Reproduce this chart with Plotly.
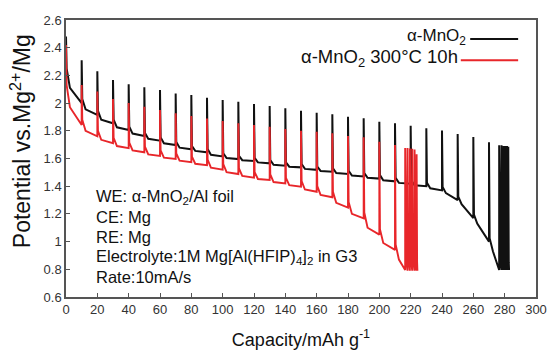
import plotly.graph_objects as go

# ---------------- data ----------------
# alpha-MnO2 (black): GITT pulses
black_start = [0, 10, 20, 30, 40, 50, 60, 70, 80, 90, 100, 110, 120, 130, 140, 150, 160, 170,
               180, 190, 200, 210, 220, 230, 240, 250, 260, 270, 276.5, 278, 279.3, 280.5, 281.5, 282.3]
black_final_cap = 282.8
black_top = [2.48, 2.31, 2.23, 2.167, 2.136, 2.114, 2.094, 2.07, 2.058, 2.039, 2.022, 2.01, 1.993,
             1.979, 1.962, 1.945, 1.931, 1.919, 1.902, 1.89, 1.866, 1.854, 1.837, 1.818, 1.802,
             1.776, 1.755, 1.717, 1.695, 1.695, 1.69, 1.69, 1.69, 1.685]
black_after = [2.25, 2.03, 1.945, 1.88, 1.83, 1.785, 1.752, 1.72, 1.69, 1.668, 1.638, 1.62, 1.605,
               1.588, 1.572, 1.56, 1.542, 1.53, 1.512, 1.494, 1.48, 1.46, 1.443, 1.425, 1.395,
               1.325, 1.195, 1.025, 1.1, 1.1, 1.1, 1.1, 1.1, 1.1]
black_knee = [2.11, 1.955, 1.88, 1.825, 1.78, 1.742, 1.71, 1.678, 1.655, 1.627, 1.604, 1.588, 1.572,
              1.555, 1.541, 1.525, 1.51, 1.495, 1.477, 1.461, 1.443, 1.424, 1.407, 1.385, 1.35,
              1.27, 1.13, 0.93, 0.85, 0.85, 0.85, 0.85, 0.85, 0.85]
black_end = [2.0, 1.914, 1.854, 1.806, 1.762, 1.729, 1.697, 1.666, 1.645, 1.615, 1.596, 1.582, 1.565,
             1.548, 1.536, 1.518, 1.505, 1.488, 1.47, 1.455, 1.435, 1.418, 1.40, 1.37, 1.30,
             1.17, 1.0, 0.795, 0.795, 0.795, 0.795, 0.795, 0.795, 0.795]

# alpha-MnO2 300 C 10h (red)
red_start = [0, 10, 20, 30, 40, 50, 60, 70, 80, 90, 100, 110, 120, 130, 140, 150, 160, 170,
             180, 190, 200, 210, 216.5, 218, 219.5, 221, 222.5, 223.8]
red_final_cap = 224.3
red_top = [2.42, 2.13, 2.083, 2.03, 2.0, 1.974, 1.95, 1.926, 1.907, 1.888, 1.871, 1.854, 1.842,
           1.83, 1.813, 1.80, 1.793, 1.782, 1.762, 1.753, 1.721, 1.697,
           1.675, 1.675, 1.672, 1.67, 1.665, 1.63]
red_after = [2.13, 1.88, 1.80, 1.75, 1.715, 1.685, 1.658, 1.636, 1.614, 1.592, 1.56, 1.528, 1.502,
             1.485, 1.46, 1.437, 1.40, 1.36, 1.285, 1.21, 1.09, 0.98,
             1.05, 1.05, 1.05, 1.05, 1.05, 1.05]
red_knee = [1.97, 1.80, 1.735, 1.69, 1.658, 1.63, 1.606, 1.584, 1.562, 1.534, 1.502, 1.474, 1.452,
            1.43, 1.407, 1.376, 1.337, 1.28, 1.20, 1.10, 0.99, 0.87,
            0.85, 0.85, 0.85, 0.85, 0.85, 0.85]
red_end = [1.842, 1.76, 1.71, 1.675, 1.645, 1.618, 1.596, 1.574, 1.552, 1.52, 1.488, 1.462, 1.445,
           1.42, 1.397, 1.36, 1.32, 1.245, 1.168, 1.05, 0.94, 0.795,
           0.79, 0.79, 0.79, 0.79, 0.79, 0.79]

series_names = ["α-MnO<sub>2</sub>", "α-MnO<sub>2</sub> 300°C 10h"]
x_ticks = list(range(0, 301, 20))
y_ticks = [0.6, 0.8, 1, 1.2, 1.4, 1.6, 1.8, 2, 2.2, 2.4, 2.6]
x_title = "Capacity/mAh g<sup>-1</sup>"
y_title = "Potential vs.Mg<sup>2+</sup>/Mg"
info_lines = ["WE: α-MnO<sub>2</sub>/Al foil", "CE: Mg", "RE: Mg",
              "Electrolyte:1M Mg[Al(HFIP)<sub>4</sub>]<sub>2</sub> in G3", "Rate:10mA/s"]


def build_path(starts, final_cap, tops, afters, knees, ends):
    xs, ys = [], []
    for i, s in enumerate(starts):
        e = starts[i + 1] if i + 1 < len(starts) else final_cap
        span = e - s
        xs += [s, s + min(0.4, 0.25 * span), s + min(2.5, 0.6 * span), e]
        ys += [tops[i], afters[i], knees[i], ends[i]]
    return xs, ys


bx, by = build_path(black_start, black_final_cap, black_top, black_after, black_knee, black_end)
rx, ry = build_path(red_start, red_final_cap, red_top, red_after, red_knee, red_end)

BLACK = "#111111"
RED = "#e8262a"
FONT = "Liberation Sans, Arial, sans-serif"

fig = go.Figure()
fig.add_trace(go.Scatter(x=bx, y=by, mode="lines", line=dict(color=BLACK, width=2),
                         name=series_names[0], showlegend=False))
fig.add_trace(go.Scatter(x=rx, y=ry, mode="lines", line=dict(color=RED, width=1.9),
                         name=series_names[1], showlegend=False))

axis_common = dict(showgrid=False, zeroline=False, showline=True, linecolor="#555555",
                   linewidth=1.5, mirror=True, ticks="inside", ticklen=4, tickwidth=1,
                   tickcolor="#555555", automargin=False,
                   tickfont=dict(family=FONT, size=13, color="#333333"))

fig.update_xaxes(range=[0, 300], tickvals=x_ticks,
                 title=dict(text=x_title, standoff=18,
                            font=dict(family=FONT, size=18, color="#111111")),
                 **axis_common)
fig.update_yaxes(range=[0.6, 2.6], tickvals=y_ticks, **axis_common)

# y-axis title (placed slightly above the axis centre, as in the reference)
fig.add_annotation(xref="paper", yref="paper", x=-0.096, y=0.562, text=y_title,
                   textangle=-90, showarrow=False, xanchor="center", yanchor="middle",
                   font=dict(family=FONT, size=23, color="#111111"))

# legend drawn as text + line samples (symbol on the right, as in the reference)
legend_rows = [(series_names[0], BLACK, 0.855, 0.940, 0.860, 17),
               (series_names[1], RED, 0.838, 0.864, 0.840, 18.5)]
for text, col, tx, ty, lx0, fs in legend_rows:
    fig.add_annotation(xref="paper", yref="paper", x=tx, y=ty, text=text, showarrow=False,
                       xanchor="right", yanchor="middle",
                       font=dict(family=FONT, size=fs, color="#111111"))
    fig.add_shape(type="line", xref="paper", yref="paper", x0=lx0, x1=0.962, y0=ty - 0.009,
                  y1=ty - 0.009, line=dict(color=col, width=2))

info_y = [0.361, 0.289, 0.217, 0.144, 0.072]
for text, yy in zip(info_lines, info_y):
    fig.add_annotation(xref="paper", yref="paper", x=0.06, y=yy, text=text, showarrow=False,
                       xanchor="left", yanchor="middle",
                       font=dict(family=FONT, size=16.5, color="#111111"))

fig.update_layout(width=550, height=350, margin=dict(l=66, r=14, t=20, b=53),
                  paper_bgcolor="white", plot_bgcolor="white", showlegend=False)

fig.write_html("out.html")
